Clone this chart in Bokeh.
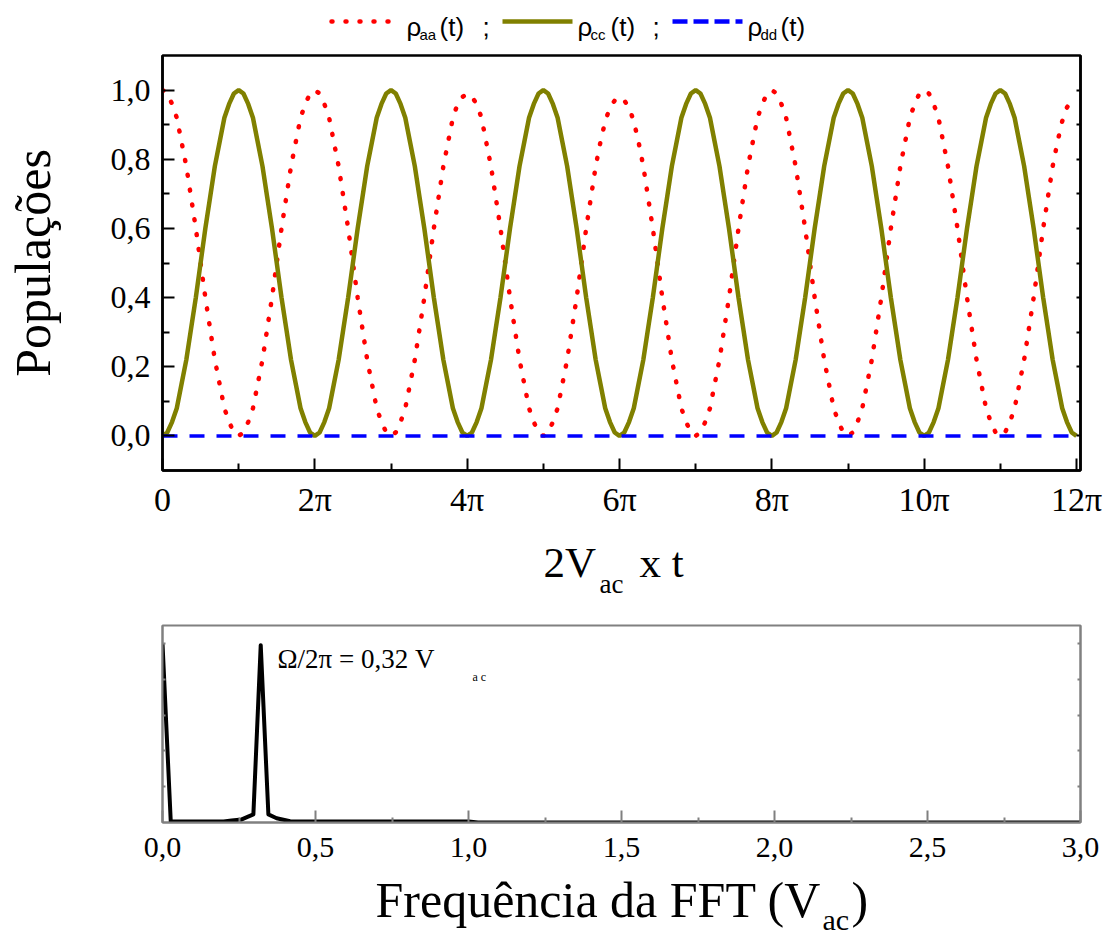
from bokeh.plotting import figure
from bokeh.layouts import column
from bokeh.models import Range1d, FixedTicker, LinearAxis, Label, CustomJSTickFormatter
from bokeh.embed import file_html
from bokeh.resources import INLINE

# ---------------- data ----------------
# abscissa 2*V_ac*t expressed in units of pi, sampled every pi/16
t_pi = [k / 16 for k in range(193)]

rho_cc = [
    0.0, 0.01, 0.04, 0.08, 0.15, 0.22, 0.31, 0.40, 0.5, 0.60, 0.69, 0.78, 0.85, 0.92, 0.96, 0.99,
    1.0, 0.99, 0.96, 0.92, 0.85, 0.78, 0.69, 0.60, 0.5, 0.40, 0.31, 0.22, 0.15, 0.08, 0.04, 0.01,
    0.0, 0.01, 0.04, 0.08, 0.15, 0.22, 0.31, 0.40, 0.5, 0.60, 0.69, 0.78, 0.85, 0.92, 0.96, 0.99,
    1.0, 0.99, 0.96, 0.92, 0.85, 0.78, 0.69, 0.60, 0.5, 0.40, 0.31, 0.22, 0.15, 0.08, 0.04, 0.01,
    0.0, 0.01, 0.04, 0.08, 0.15, 0.22, 0.31, 0.40, 0.5, 0.60, 0.69, 0.78, 0.85, 0.92, 0.96, 0.99,
    1.0, 0.99, 0.96, 0.92, 0.85, 0.78, 0.69, 0.60, 0.5, 0.40, 0.31, 0.22, 0.15, 0.08, 0.04, 0.01,
    0.0, 0.01, 0.04, 0.08, 0.15, 0.22, 0.31, 0.40, 0.5, 0.60, 0.69, 0.78, 0.85, 0.92, 0.96, 0.99,
    1.0, 0.99, 0.96, 0.92, 0.85, 0.78, 0.69, 0.60, 0.5, 0.40, 0.31, 0.22, 0.15, 0.08, 0.04, 0.01,
    0.0, 0.01, 0.04, 0.08, 0.15, 0.22, 0.31, 0.40, 0.5, 0.60, 0.69, 0.78, 0.85, 0.92, 0.96, 0.99,
    1.0, 0.99, 0.96, 0.92, 0.85, 0.78, 0.69, 0.60, 0.5, 0.40, 0.31, 0.22, 0.15, 0.08, 0.04, 0.01,
    0.0, 0.01, 0.04, 0.08, 0.15, 0.22, 0.31, 0.40, 0.5, 0.60, 0.69, 0.78, 0.85, 0.92, 0.96, 0.99,
    1.0, 0.99, 0.96, 0.92, 0.85, 0.78, 0.69, 0.60, 0.5, 0.40, 0.31, 0.22, 0.15, 0.08, 0.04, 0.01,
    0.0,
]
rho_aa = [
    1.0, 0.99, 0.96, 0.92, 0.85, 0.78, 0.69, 0.60, 0.5, 0.40, 0.31, 0.22, 0.15, 0.08, 0.04, 0.01,
    0.0, 0.01, 0.04, 0.08, 0.15, 0.22, 0.31, 0.40, 0.5, 0.60, 0.69, 0.78, 0.85, 0.92, 0.96, 0.99,
    1.0, 0.99, 0.96, 0.92, 0.85, 0.78, 0.69, 0.60, 0.5, 0.40, 0.31, 0.22, 0.15, 0.08, 0.04, 0.01,
    0.0, 0.01, 0.04, 0.08, 0.15, 0.22, 0.31, 0.40, 0.5, 0.60, 0.69, 0.78, 0.85, 0.92, 0.96, 0.98,
    0.99, 0.98, 0.96, 0.92, 0.85, 0.78, 0.69, 0.60, 0.5, 0.40, 0.31, 0.22, 0.15, 0.08, 0.04, 0.01,
    0.0, 0.01, 0.04, 0.08, 0.15, 0.22, 0.31, 0.40, 0.5, 0.60, 0.69, 0.78, 0.85, 0.91, 0.95, 0.97,
    0.98, 0.97, 0.95, 0.91, 0.85, 0.78, 0.69, 0.60, 0.5, 0.40, 0.31, 0.22, 0.15, 0.08, 0.04, 0.01,
    0.0, 0.01, 0.04, 0.08, 0.15, 0.22, 0.31, 0.40, 0.5, 0.60, 0.69, 0.78, 0.85, 0.92, 0.96, 0.99,
    1.0, 0.99, 0.96, 0.92, 0.85, 0.78, 0.69, 0.60, 0.5, 0.40, 0.31, 0.22, 0.15, 0.08, 0.04, 0.01,
    0.0, 0.01, 0.04, 0.08, 0.15, 0.22, 0.31, 0.40, 0.5, 0.60, 0.69, 0.78, 0.85, 0.92, 0.96, 0.99,
    1.0, 0.99, 0.96, 0.92, 0.85, 0.78, 0.69, 0.60, 0.5, 0.40, 0.31, 0.22, 0.15, 0.08, 0.04, 0.01,
    0.0, 0.01, 0.04, 0.08, 0.15, 0.22, 0.31, 0.40, 0.5, 0.60, 0.69, 0.78, 0.85, 0.91, 0.95, 0.97,
    0.98,
]
t_dd = [0.0, 12.0]
rho_dd = [0.0, 0.0]

x_ticks = [0, 2, 4, 6, 8, 10, 12]
x_tick_labels = ["0", "2π", "4π", "6π", "8π", "10π", "12π"]
x_minor = [1, 3, 5, 7, 9, 11]
y_ticks = [0.0, 0.2, 0.4, 0.6, 0.8, 1.0]
y_tick_labels = ["0,0", "0,2", "0,4", "0,6", "0,8", "1,0"]
y_minor = [0.1, 0.3, 0.5, 0.7, 0.9]

fft_freq = [0.0, 0.027, 0.2, 0.226, 0.259, 0.297, 0.321, 0.346, 0.373, 0.417, 1.0, 1.031, 3.0]
fft_amp = [1.0, 0.005, 0.005, 0.011, 0.017, 0.045, 0.99, 0.045, 0.024, 0.007, 0.005, 0.0, 0.0]

f_ticks = [0.0, 0.5, 1.0, 1.5, 2.0, 2.5, 3.0]
f_tick_labels = ["0,0", "0,5", "1,0", "1,5", "2,0", "2,5", "3,0"]
f_minor = [0.25, 0.75, 1.25, 1.75, 2.25, 2.75]
a_ticks = [0.2, 0.4, 0.6, 0.8, 1.0]

SERIF = "Liberation Serif"
SANS = "Liberation Sans"
RED = "#ff0000"
OLIVE = "#808000"
BLUE = "#0000ff"
GRAY = "#808080"

W = 1109
F_L, F_R = 162, 1080          # horizontal frame edges shared by all rows
BLANK = CustomJSTickFormatter(code="return '';")
MID = 0.345                    # distance baseline -> middle of the text box, in em


def strip(h):
    """A text row whose frame spans the plot frame width; data units = page pixels."""
    s = figure(width=W, height=h, x_range=Range1d(F_L, F_R), y_range=Range1d(h, 0),
               min_border_left=F_L, min_border_right=W - F_R, min_border_top=0,
               min_border_bottom=0, toolbar_location=None, output_backend="svg",
               x_axis_location=None, y_axis_location=None, outline_line_color=None)
    s.grid.visible = False
    return s


def put(fig, x, y, s, size, font):
    fig.add_layout(Label(x=x, y=y, text=s, text_font=font, text_font_size=f"{size}px",
                         text_color="black", text_baseline="middle", text_align="left"))


def put_base(fig, x, base, s, size, font):
    """place text so that its baseline sits at `base` (pixel rows of the strip, y downward)."""
    put(fig, x, base - MID * size, s, size, font)


# ---------------- legend strip (page y 0..45) ----------------
leg = strip(45)
leg.line([331, 399], [21, 21], line_color=RED, line_width=4.5, line_dash="1 13", line_cap="round")
leg.line([502, 572], [21, 21], line_color=OLIVE, line_width=4.5)
leg.line([672, 742], [21, 21], line_color=BLUE, line_width=4.5, line_dash="15 6")
for x0, sub in [(406, "aa"), (577, "cc"), (747, "dd")]:
    put_base(leg, x0, 35, "ρ", 26, SANS)
    put_base(leg, x0 + 13, 39, sub, 15, SANS)
    put_base(leg, x0 + 33, 35, "(t)", 26, SANS)
put_base(leg, 482, 35, ";", 26, SANS)
put_base(leg, 652, 35, ";", 26, SANS)

# ---------------- top panel (page y 45..530) ----------------
X_END = 12.0525
top = figure(width=W, height=485, x_range=Range1d(0, X_END), y_range=Range1d(-0.1, 1.1),
             min_border_left=F_L, min_border_right=W - F_R, min_border_top=10,
             min_border_bottom=60, toolbar_location=None, output_backend="svg",
             outline_line_color="black", outline_line_width=2.5, background_fill_color="white")
top.grid.visible = False

top.line(t_pi, rho_aa, line_color=RED, line_width=4.5, line_dash="1 14", line_cap="round")
top.line(t_pi, rho_cc, line_color=OLIVE, line_width=4.5)
top.line(t_dd, rho_dd, line_color=BLUE, line_width=3.5, line_dash="15 12")

xa = top.xaxis[0]
xa.ticker = FixedTicker(ticks=x_ticks, minor_ticks=x_minor)
xa.major_label_overrides = dict(zip(x_ticks, x_tick_labels))
ya = top.yaxis[0]
ya.ticker = FixedTicker(ticks=y_ticks, minor_ticks=y_minor)
ya.major_label_overrides = dict(zip(y_ticks, y_tick_labels))
for ax in (xa, ya):
    ax.axis_line_width = 2.5
    ax.axis_line_color = "black"
    ax.major_tick_in = 12
    ax.major_tick_out = 0
    ax.minor_tick_in = 7
    ax.minor_tick_out = 0
    ax.major_tick_line_width = 2
    ax.minor_tick_line_width = 2
    ax.major_label_text_font = SERIF
    ax.major_label_text_color = "black"
xa.major_label_text_font_size = "34px"
xa.major_label_standoff = 10
ya.major_label_text_font_size = "32px"
ya.major_label_standoff = 12
ya.axis_label = "Populações"
ya.axis_label_text_font = SERIF
ya.axis_label_text_font_size = "50px"
ya.axis_label_text_font_style = "normal"
ya.axis_label_text_color = "black"
ya.axis_label_standoff = 47

ra = LinearAxis(ticker=FixedTicker(ticks=y_ticks, minor_ticks=y_minor), formatter=BLANK,
                major_label_standoff=0,
                major_tick_in=4, major_tick_out=0, minor_tick_in=4, minor_tick_out=0,
                axis_line_width=2.5, major_tick_line_width=2, minor_tick_line_width=2)
top.add_layout(ra, "right")

# ---------------- x title of top panel (page y 530..610) ----------------
xt = strip(80)
put_base(xt, 543, 47, "2V", 43, SERIF)
put_base(xt, 599, 63, "ac", 27, SERIF)
put_base(xt, 639, 47, "x t", 43, SERIF)

# ---------------- bottom panel (page y 610..872) ----------------
B_T, B_B = 625, 822
A0, A1 = 0.0, 1.1
bot = figure(width=W, height=262, x_range=Range1d(0, 3), y_range=Range1d(A0, A1),
             min_border_left=F_L, min_border_right=W - F_R, min_border_top=15,
             min_border_bottom=50, toolbar_location=None, output_backend="svg",
             outline_line_color=GRAY, outline_line_width=2, background_fill_color="white")
bot.grid.visible = False
bot.line(fft_freq, fft_amp, line_color="black", line_width=4, line_join="round")

bx = bot.xaxis[0]
bx.ticker = FixedTicker(ticks=f_ticks, minor_ticks=f_minor)
bx.major_label_overrides = dict(zip(f_ticks, f_tick_labels))
bx.axis_line_color = GRAY
bx.axis_line_width = 2
bx.major_tick_in = 12
bx.major_tick_out = 0
bx.minor_tick_in = 5
bx.minor_tick_out = 0
bx.major_tick_line_color = GRAY
bx.minor_tick_line_color = GRAY
bx.major_tick_line_width = 2
bx.minor_tick_line_width = 2
bx.major_label_text_font = SERIF
bx.major_label_text_font_size = "30px"
bx.major_label_text_color = "black"
bx.major_label_standoff = 15

by_ = bot.yaxis[0]
by_.ticker = FixedTicker(ticks=a_ticks, minor_ticks=[])
by_.formatter = BLANK
by_.major_label_standoff = 0
by_.axis_line_color = GRAY
by_.axis_line_width = 2
by_.major_tick_in = 3
by_.major_tick_out = 0
by_.major_tick_line_color = GRAY
by_.major_tick_line_width = 2
rb = LinearAxis(ticker=FixedTicker(ticks=a_ticks, minor_ticks=[]), formatter=BLANK,
                major_label_standoff=0,
                major_tick_in=3, major_tick_out=0, axis_line_color=GRAY, axis_line_width=2,
                major_tick_line_color=GRAY, major_tick_line_width=2)
bot.add_layout(rb, "right")


def bxp(px):
    return (px - F_L) / (F_R - F_L) * 3.0


def byp(py):
    return A0 + (B_B - py) / (B_B - B_T) * (A1 - A0)


put(bot, bxp(277), byp(668 - MID * 27), "Ω/2π = 0,32 V", 27, SERIF)
put(bot, bxp(472), byp(681 - MID * 12), "a c", 12, SERIF)

# ---------------- x title of bottom panel (page y 872..937) ----------------
bt = strip(65)
put_base(bt, 375, 45, "Frequência da FFT (V", 50, SERIF)
put_base(bt, 822, 57, "ac", 30, SERIF)
put_base(bt, 851, 45, ")", 50, SERIF)

layout = column(leg, top, xt, bot, bt, spacing=0)
open("out.html", "w").write(file_html(layout, INLINE))
